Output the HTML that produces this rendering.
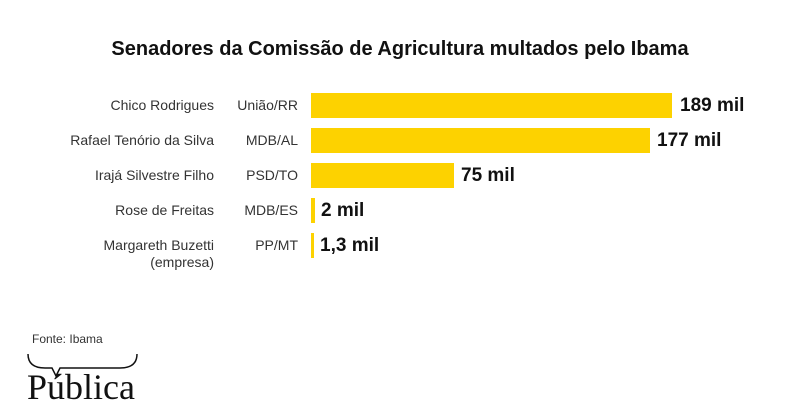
<!DOCTYPE html>
<html><head><meta charset="utf-8"><style>
body{margin:0;width:800px;height:406px;background:#fff;position:relative;overflow:hidden;font-family:"Liberation Sans",sans-serif;color:#222}
.t{position:absolute;left:0;width:800px;top:38px;text-align:center;font-weight:bold;font-size:20px;color:#111}
.n{position:absolute;right:586px;font-size:14px;text-align:right;line-height:17px;color:#333}
.p{position:absolute;right:502px;font-size:14px;color:#333}
.b{position:absolute;left:311px;height:25px;background:#fdd200}
.v{position:absolute;font-weight:bold;font-size:19px;color:#111}
</style></head><body>
<div class="t">Senadores da Comissão de Agricultura multados pelo Ibama</div>
<div class="n" style="top:97px">Chico Rodrigues</div><div class="p" style="top:97px">União/RR</div>
<div class="b" style="top:93px;width:361px"></div><div class="v" style="left:680px;top:95px">189 mil</div>
<div class="n" style="top:132px">Rafael Tenório da Silva</div><div class="p" style="top:132px">MDB/AL</div>
<div class="b" style="top:128px;width:339px"></div><div class="v" style="left:657px;top:130px">177 mil</div>
<div class="n" style="top:167px">Irajá Silvestre Filho</div><div class="p" style="top:167px">PSD/TO</div>
<div class="b" style="top:163px;width:143px"></div><div class="v" style="left:461px;top:165px">75 mil</div>
<div class="n" style="top:202px">Rose de Freitas</div><div class="p" style="top:202px">MDB/ES</div>
<div class="b" style="top:198px;width:4px"></div><div class="v" style="left:321px;top:200px">2 mil</div>
<div class="n" style="top:237px">Margareth Buzetti<br>(empresa)</div><div class="p" style="top:237px">PP/MT</div>
<div class="b" style="top:233px;width:3px"></div><div class="v" style="left:320px;top:235px">1,3 mil</div>
<div style="position:absolute;left:32px;top:332px;font-size:12px;color:#333">Fonte: Ibama</div>
<svg style="position:absolute;left:0;top:350px" width="150" height="30"><path d="M28 4 Q28 18 45 18 L52 18 L56 26 L60 18 L120 18 Q137 18 137 4" fill="none" stroke="#111" stroke-width="1.5"/></svg>
<div style="position:absolute;left:27px;top:368px;font-family:'Liberation Serif',serif;font-size:36px;color:#111;line-height:38px">Pública</div>
</body></html>
